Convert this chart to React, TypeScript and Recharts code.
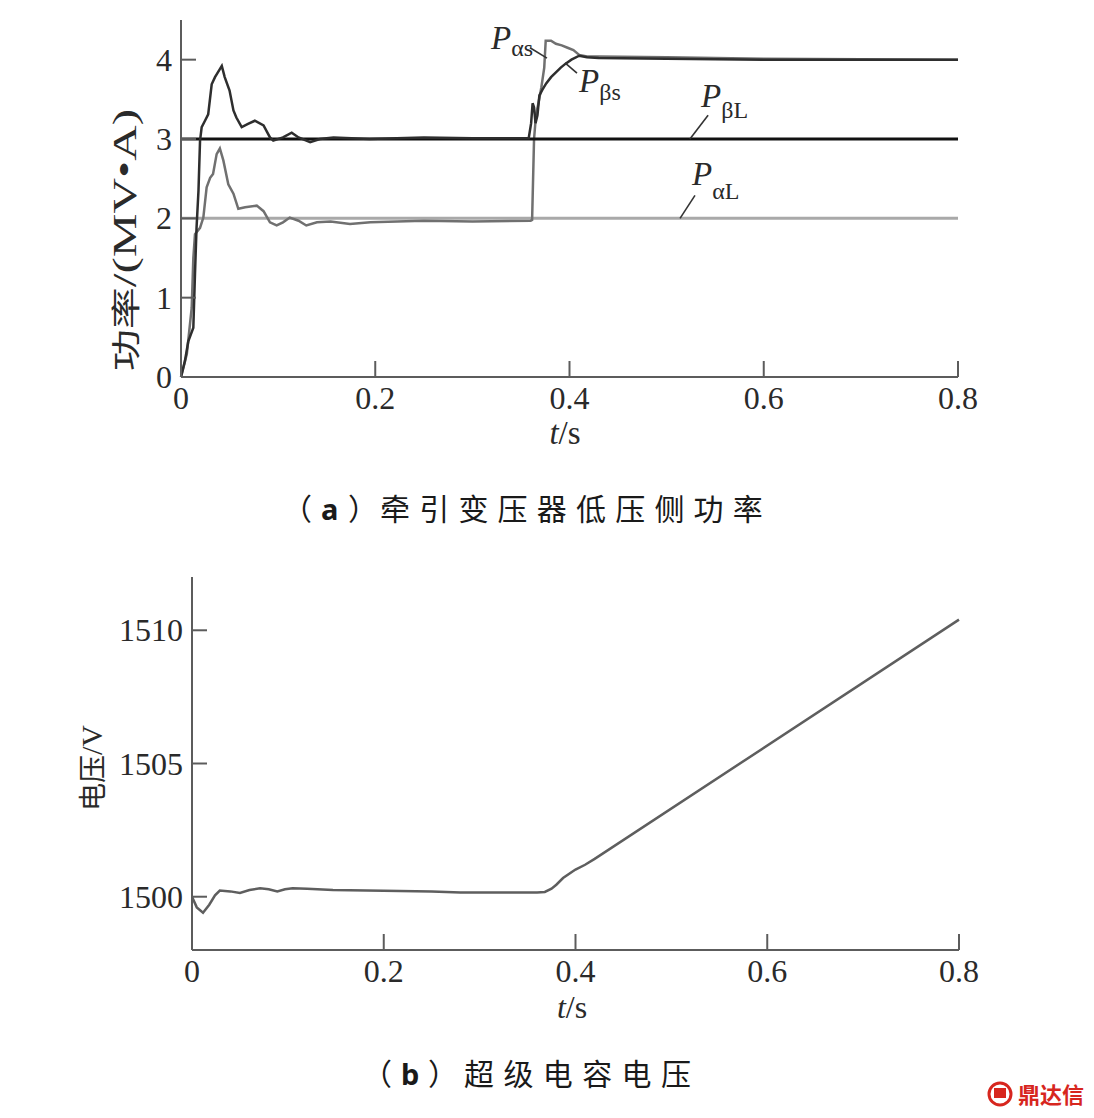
import React from 'react';
import { LineChart, Line, XAxis, YAxis, ReferenceLine } from 'recharts';

// ---------- data ----------
const xTicks = [0, 0.2, 0.4, 0.6, 0.8];
const powerTicks = [0, 1, 2, 3, 4];
const voltTicks = [1500, 1505, 1510];

// load-side powers (constant)
const tLoad = [0, 0.8];
const pAlphaL = [2, 2];
const pBetaL = [3, 3];

// supply-side power P_alpha_s (grey, starts at the 2 MV·A level)
const tAlphaS = [0, 0.006, 0.011, 0.0127, 0.0144, 0.0196, 0.023, 0.0264, 0.03, 0.033, 0.0367, 0.04, 0.0436, 0.0487, 0.054, 0.059, 0.066, 0.078, 0.085, 0.0916, 0.0985, 0.105, 0.112, 0.121, 0.129, 0.14, 0.154, 0.174, 0.195, 0.25, 0.3, 0.36, 0.3615, 0.3635, 0.3655, 0.368, 0.371, 0.374, 0.3755, 0.381, 0.386, 0.392, 0.398, 0.404, 0.41, 0.418, 0.43, 0.5, 0.6, 0.8];
const pAlphaS = [0, 0.29, 0.87, 1.5, 1.8, 1.88, 2.01, 2.39, 2.51, 2.56, 2.81, 2.88, 2.73, 2.43, 2.31, 2.12, 2.14, 2.16, 2.09, 1.95, 1.91, 1.95, 2.01, 1.97, 1.91, 1.95, 1.96, 1.93, 1.95, 1.97, 1.96, 1.97, 1.98, 3.0, 3.3, 3.45, 3.65, 3.9, 4.24, 4.24, 4.2, 4.18, 4.15, 4.12, 4.06, 4.04, 4.04, 4.03, 4.01, 4.0];

// supply-side power P_beta_s (black, starts at the 3 MV·A level)
const tBetaS = [0, 0.004, 0.0075, 0.0127, 0.0144, 0.016, 0.018, 0.0196, 0.0213, 0.0247, 0.028, 0.0316, 0.035, 0.04, 0.042, 0.045, 0.05, 0.054, 0.057, 0.0625, 0.069, 0.076, 0.085, 0.0916, 0.095, 0.105, 0.114, 0.121, 0.133, 0.143, 0.157, 0.194, 0.25, 0.3, 0.358, 0.3605, 0.362, 0.3635, 0.365, 0.367, 0.369, 0.372, 0.376, 0.381, 0.386, 0.391, 0.396, 0.402, 0.41, 0.418, 0.43, 0.5, 0.6, 0.8];
const pBetaS = [0, 0.2, 0.45, 0.62, 1.3, 1.88, 2.35, 2.98, 3.15, 3.23, 3.31, 3.69, 3.78, 3.88, 3.92, 3.78, 3.61, 3.36, 3.27, 3.15, 3.19, 3.23, 3.17, 3.02, 2.98, 3.02, 3.08, 3.02, 2.96, 3.0, 3.02, 3.0, 3.02, 3.01, 3.01, 3.2, 3.45, 3.4, 3.2, 3.3, 3.55, 3.62, 3.7, 3.78, 3.84, 3.9, 3.95, 4.0, 4.05, 4.03, 4.02, 4.01, 4.0, 4.0];

// super-capacitor voltage
const tVolt = [0, 0.005, 0.0115, 0.018, 0.024, 0.029, 0.04, 0.05, 0.06, 0.071, 0.08, 0.089, 0.097, 0.105, 0.12, 0.147, 0.2, 0.25, 0.28, 0.33, 0.36, 0.368, 0.375, 0.38, 0.387, 0.395, 0.4, 0.41, 0.42, 0.8];
const uVolt = [1500, 1499.6, 1499.4, 1499.7, 1500.05, 1500.23, 1500.2, 1500.14, 1500.25, 1500.32, 1500.28, 1500.2, 1500.28, 1500.32, 1500.3, 1500.25, 1500.22, 1500.2, 1500.16, 1500.16, 1500.16, 1500.18, 1500.3, 1500.45, 1500.7, 1500.9, 1501.02, 1501.2, 1501.42, 1510.4];

// leader lines for the series labels (data coordinates)
const leaderAlphaS = [{ x: 0.3593, y: 4.15 }, { x: 0.3768, y: 4.02 }];
const leaderBetaS = [{ x: 0.3954, y: 3.96 }, { x: 0.4077, y: 3.83 }];
const leaderBetaL = [{ x: 0.524, y: 3.0 }, { x: 0.5427, y: 3.3 }];
const leaderAlphaL = [{ x: 0.5138, y: 2.0 }, { x: 0.5292, y: 2.29 }];

const zip = (ts: number[], vs: number[]) => ts.map((t, i) => ({ t, v: vs[i] }));

// ---------- styles ----------
const SERIF = "'Liberation Serif', 'Times New Roman', serif";
const CJK = "'Noto Sans CJK SC', sans-serif";
const AXIS = '#5c5c5c';
const TEXT = '#2a2a2a';

const fmtX = (v: number) => (v === 0 ? '0' : v.toFixed(1));

const XTick = (props: any) => {
  const { x, y, payload } = props;
  return (
    <g>
      {payload.value !== 0 && (
        <line x1={x} y1={y} x2={x} y2={y - 16} stroke={AXIS} strokeWidth={2} />
      )}
      <text x={x} y={y + 32} textAnchor="middle" fontFamily={SERIF} fontSize={32} fill={TEXT}>
        {fmtX(payload.value)}
      </text>
    </g>
  );
};

const makeYTick = (skip: number | null) => (props: any) => {
  const { x, y, payload } = props;
  return (
    <g>
      {payload.value !== skip && (
        <line x1={x} y1={y} x2={x + 15} y2={y} stroke={AXIS} strokeWidth={2} />
      )}
      <text x={x - 9} y={y + 11} textAnchor="end" fontFamily={SERIF} fontSize={32} fill={TEXT}>
        {payload.value}
      </text>
    </g>
  );
};

const PowerYTick = makeYTick(0);
const VoltYTick = makeYTick(null);

const axisLine = { stroke: AXIS, strokeWidth: 2 };

export default function App() {
  return (
    <div style={{ position: 'absolute', left: 0, top: 0, width: 1094, height: 1118, background: '#fff' }}>
      <div style={{ position: 'absolute', left: 0, top: 0 }}>
        <LineChart width={1094} height={470} margin={{ top: 20, right: 136, bottom: 0, left: 0 }}>
          <XAxis
            dataKey="t"
            type="number"
            domain={[0, 0.8]}
            ticks={xTicks}
            height={93}
            tickLine={false}
            tickSize={0}
            tickMargin={0}
            axisLine={axisLine}
            tick={<XTick />}
            interval={0}
          />
          <YAxis
            type="number"
            domain={[0, 4.5]}
            ticks={powerTicks}
            width={181}
            tickLine={false}
            tickSize={0}
            tickMargin={0}
            axisLine={axisLine}
            tick={<PowerYTick />}
            interval={0}
          />
          <Line data={zip(tLoad, pAlphaL)} dataKey="v" stroke="#a9a9a9" strokeWidth={3} dot={false} isAnimationActive={false} />
          <Line data={zip(tAlphaS, pAlphaS)} dataKey="v" stroke="#707070" strokeWidth={2.5} dot={false} isAnimationActive={false} />
          <Line data={zip(tLoad, pBetaL)} dataKey="v" stroke="#111" strokeWidth={3} dot={false} isAnimationActive={false} />
          <Line data={zip(tBetaS, pBetaS)} dataKey="v" stroke="#2e2e2e" strokeWidth={2.5} dot={false} isAnimationActive={false} />
          <ReferenceLine segment={leaderAlphaS} stroke="#333" strokeWidth={1.6} ifOverflow="visible" />
          <ReferenceLine segment={leaderBetaS} stroke="#333" strokeWidth={1.6} ifOverflow="visible" />
          <ReferenceLine segment={leaderBetaL} stroke="#333" strokeWidth={1.6} ifOverflow="visible" />
          <ReferenceLine segment={leaderAlphaL} stroke="#333" strokeWidth={1.6} ifOverflow="visible" />
        </LineChart>
      </div>

      <div style={{ position: 'absolute', left: 0, top: 540 }}>
        <LineChart width={1094} height={480} margin={{ top: 37, right: 135, bottom: 0, left: 0 }}>
          <XAxis
            dataKey="t"
            type="number"
            domain={[0, 0.8]}
            ticks={xTicks}
            height={70}
            tickLine={false}
            tickSize={0}
            tickMargin={0}
            axisLine={axisLine}
            tick={<XTick />}
            interval={0}
          />
          <YAxis
            type="number"
            domain={[1498, 1512]}
            ticks={voltTicks}
            width={192}
            tickLine={false}
            tickSize={0}
            tickMargin={0}
            axisLine={axisLine}
            tick={<VoltYTick />}
            interval={0}
          />
          <Line data={zip(tVolt, uVolt)} dataKey="v" stroke="#5e5e5e" strokeWidth={2.5} dot={false} isAnimationActive={false} />
        </LineChart>
      </div>

      <svg
        width={1094}
        height={1118}
        style={{ position: 'absolute', left: 0, top: 0, pointerEvents: 'none' }}
      >
        {/* series labels */}
        <text x={491} y={49} fontFamily={SERIF} fontSize={33} fill={TEXT}>
          <tspan fontStyle="italic">P</tspan>
          <tspan fontSize={24} dy={7}>αs</tspan>
        </text>
        <text x={579} y={92} fontFamily={SERIF} fontSize={33} fill={TEXT}>
          <tspan fontStyle="italic">P</tspan>
          <tspan fontSize={24} dy={8}>βs</tspan>
        </text>
        <text x={701} y={107} fontFamily={SERIF} fontSize={33} fill={TEXT}>
          <tspan fontStyle="italic">P</tspan>
          <tspan fontSize={24} dy={11}>βL</tspan>
        </text>
        <text x={692} y={185} fontFamily={SERIF} fontSize={33} fill={TEXT}>
          <tspan fontStyle="italic">P</tspan>
          <tspan fontSize={24} dy={14}>αL</tspan>
        </text>

        {/* axis titles */}
        <text x={565} y={444} textAnchor="middle" fontFamily={SERIF} fontSize={33} fill={TEXT}>
          <tspan fontStyle="italic">t</tspan>/s
        </text>
        <text x={572} y={1018} textAnchor="middle" fontFamily={SERIF} fontSize={32} fill={TEXT}>
          <tspan fontStyle="italic">t</tspan>/s
        </text>
        <text
          transform="translate(124,240) rotate(-90)"
          textAnchor="middle"
          dominantBaseline="central"
          fontFamily={SERIF}
          fontSize={34}
          fill={TEXT}
          textLength={262}
          lengthAdjust="spacingAndGlyphs"
        >
          <tspan fontFamily={CJK} fontSize={29}>功率</tspan>/(MV•A)
        </text>
        <text
          transform="translate(91,768) rotate(-90)"
          textAnchor="middle"
          dominantBaseline="central"
          fontFamily={SERIF}
          fontSize={30}
          fill={TEXT}
        >
          <tspan fontFamily={CJK} fontSize={28}>电压</tspan>/V
        </text>

        {/* captions */}
        <text y={520} fontFamily={CJK} fontSize={30} fill="#1a1a1a">
          <tspan x={282}>（</tspan>
          <tspan x={321} fontFamily="'Noto Sans', sans-serif" fontWeight="bold" fontSize={29}>a</tspan>
          <tspan x={348}>）</tspan>
          <tspan x={380} letterSpacing={9.2}>牵引变压器低压侧功率</tspan>
        </text>
        <text y={1085} fontFamily={CJK} fontSize={30} fill="#1a1a1a">
          <tspan x={362}>（</tspan>
          <tspan x={401} fontFamily="'Noto Sans', sans-serif" fontWeight="bold" fontSize={29}>b</tspan>
          <tspan x={428}>）</tspan>
          <tspan x={464} letterSpacing={9.4}>超级电容电压</tspan>
        </text>

        {/* watermark */}
        <g>
          <circle cx={1000} cy={1094} r={11} fill="none" stroke="#d7261e" strokeWidth={3} />
          <rect x={994} y={1088} width={12} height={10} fill="#d7261e" />
          <text x={1018} y={1103} fontFamily={CJK} fontWeight="bold" fontSize={22} fill="#d7261e">
            鼎达信
          </text>
        </g>
      </svg>
    </div>
  );
}
